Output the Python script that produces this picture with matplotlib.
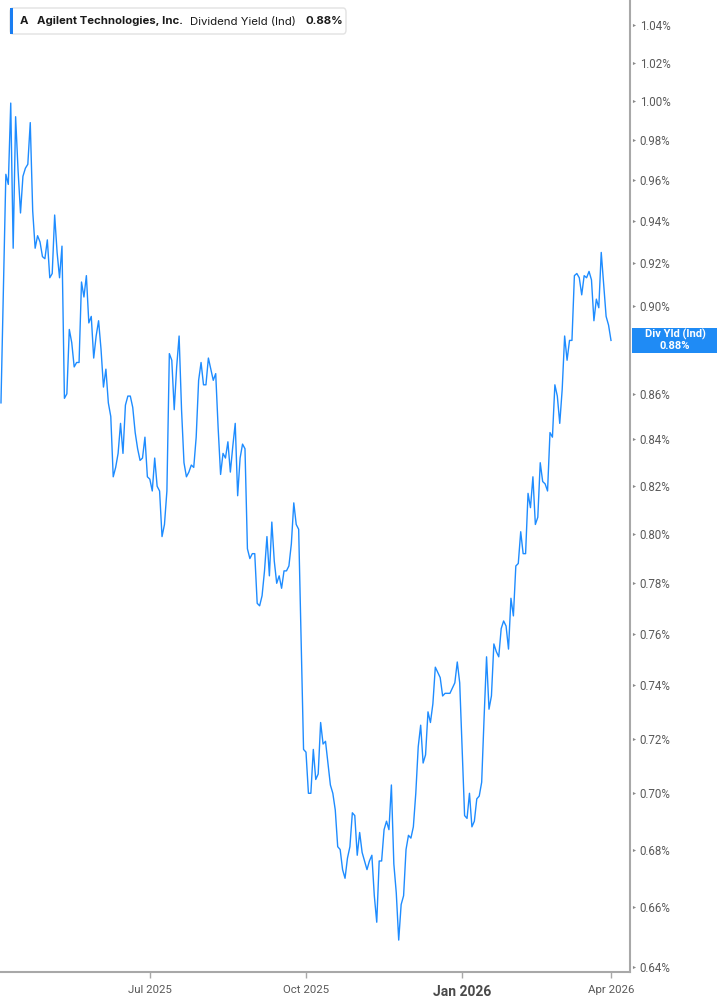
import numpy as np
import pandas as pd
import matplotlib
matplotlib.use('Agg')
import matplotlib.pyplot as plt
import matplotlib.transforms as mtransforms
from matplotlib.patches import FancyBboxPatch, Rectangle
from matplotlib.ticker import FixedLocator, NullLocator, FuncFormatter

# chart info
ticker_sym = 'A'
company = 'Agilent Technologies, Inc.'
metric = 'Dividend Yield (Ind)'
badge_label = 'Div Yld (Ind)'
start_date = '2025-04-02'
market_holidays = ['2025-04-18', '2025-05-26', '2025-06-19', '2025-07-04', '2025-09-01',
                   '2025-11-27', '2025-12-25', '2026-01-01', '2026-01-19', '2026-02-16']

# daily dividend yield (%)
div_yield = [
    0.856, 0.907, 0.963, 0.958, 0.999, 0.927, 0.992, 0.965, 0.944, 0.962, 0.966, 0.968,
    0.989, 0.945, 0.927, 0.933, 0.930, 0.923, 0.922, 0.931, 0.913, 0.915, 0.943, 0.925,
    0.913, 0.928, 0.858, 0.860, 0.889, 0.883, 0.872, 0.874, 0.874, 0.911, 0.904, 0.914,
    0.892, 0.895, 0.876, 0.886, 0.893, 0.880, 0.863, 0.871, 0.856, 0.850, 0.824, 0.828,
    0.834, 0.847, 0.834, 0.855, 0.859, 0.859, 0.854, 0.843, 0.836, 0.831, 0.832, 0.841,
    0.824, 0.823, 0.818, 0.832, 0.820, 0.818, 0.799, 0.804, 0.818, 0.878, 0.875, 0.853,
    0.872, 0.886, 0.853, 0.830, 0.824, 0.826, 0.829, 0.828, 0.841, 0.866, 0.874, 0.864,
    0.864, 0.876, 0.871, 0.866, 0.869, 0.845, 0.825, 0.834, 0.832, 0.839, 0.826, 0.837,
    0.847, 0.816, 0.832, 0.838, 0.836, 0.794, 0.790, 0.792, 0.792, 0.772, 0.771, 0.775,
    0.785, 0.799, 0.783, 0.805, 0.789, 0.780, 0.783, 0.778, 0.785, 0.785, 0.787, 0.796,
    0.813, 0.804, 0.802, 0.758, 0.716, 0.715, 0.700, 0.700, 0.716, 0.705, 0.707, 0.726,
    0.718, 0.719, 0.711, 0.703, 0.700, 0.694, 0.681, 0.680, 0.673, 0.670, 0.677, 0.681,
    0.693, 0.692, 0.678, 0.686, 0.679, 0.676, 0.673, 0.676, 0.678, 0.664, 0.655, 0.676,
    0.676, 0.687, 0.690, 0.687, 0.703, 0.675, 0.665, 0.649, 0.661, 0.664, 0.680, 0.685,
    0.684, 0.688, 0.700, 0.717, 0.725, 0.711, 0.714, 0.730, 0.726, 0.733, 0.747, 0.745,
    0.743, 0.736, 0.737, 0.737, 0.737, 0.739, 0.741, 0.749, 0.741, 0.716, 0.692, 0.691,
    0.700, 0.688, 0.690, 0.698, 0.699, 0.704, 0.728, 0.751, 0.731, 0.736, 0.756, 0.753,
    0.751, 0.762, 0.765, 0.763, 0.754, 0.774, 0.767, 0.787, 0.788, 0.801, 0.792, 0.792,
    0.817, 0.811, 0.824, 0.804, 0.807, 0.830, 0.822, 0.821, 0.818, 0.843, 0.841, 0.864,
    0.859, 0.847, 0.862, 0.886, 0.875, 0.884, 0.884, 0.914, 0.915, 0.913, 0.905, 0.914,
    0.913, 0.916, 0.912, 0.893, 0.903, 0.899, 0.925, 0.910, 0.895, 0.891, 0.884,
]

y_ticks = [0.64, 0.66, 0.68, 0.70, 0.72, 0.74, 0.76, 0.78, 0.80, 0.82, 0.84,
           0.86, 0.88, 0.90, 0.92, 0.94, 0.96, 0.98, 1.00, 1.02, 1.04]
month_ticks = ['2025-07-01', '2025-10-01', '2026-01-01', '2026-04-01']

dates = pd.bdate_range(start=start_date, periods=len(div_yield), freq='C',
                       holidays=market_holidays)
idx = np.arange(len(dates))
last = div_yield[-1]

LINE = '#1e8cff'
GRAY_TXT = '#595959'
AXIS = '#a8a8a8'

fig = plt.figure(figsize=(7.17, 10.05), dpi=100)
ax = fig.add_axes([0, 0.0328, 0.8787, 0.9672])
ax.plot(idx, div_yield, color=LINE, lw=1.0)

ax.set_yscale('log')
ax.set_ylim(0.6384, 1.0535)
ax.set_xlim(-0.4, 257.8)

# right axis (label under the badge is left blank, the badge hides it)
ax.yaxis.tick_right()
ax.yaxis.set_major_locator(FixedLocator(y_ticks))
ax.yaxis.set_minor_locator(NullLocator())
ax.yaxis.set_major_formatter(
    FuncFormatter(lambda v, p: '' if abs(v - round(last, 2)) < 1e-6 else f'{v:.2f}%'))
ax.tick_params(axis='y', length=0, pad=7, labelsize=8.3, labelcolor=GRAY_TXT)
for lab in ax.get_yticklabels():
    lab.set_family('Roboto')
tri = mtransforms.blended_transform_factory(ax.transAxes, ax.transData)
ax.scatter([1.006] * len(y_ticks), y_ticks, marker='>', s=5, color='#8a8a8a',
           transform=tri, clip_on=False, zorder=5, linewidths=0)

# bottom axis: first trading day of each labelled month
pos = [int(np.searchsorted(dates, pd.Timestamp(m))) for m in month_ticks]
ax.set_xticks(pos)
ax.set_xticklabels([pd.Timestamp(m).strftime('%b %Y') for m in month_ticks])
ax.xaxis.set_minor_locator(NullLocator())
ax.tick_params(axis='x', length=4, width=1, color=AXIS, pad=5, labelsize=8.2,
               labelcolor=GRAY_TXT)
for lab in ax.get_xticklabels():
    lab.set_family('Roboto')
    if lab.get_text().startswith('Jan'):
        lab.set_fontweight('bold')
        lab.set_fontsize(10)
        lab.set_color('#4a4a4a')

for s in ['top', 'left']:
    ax.spines[s].set_visible(False)
for s in ['right', 'bottom']:
    ax.spines[s].set_color(AXIS)
    ax.spines[s].set_linewidth(1.5)


def fx(px):
    return px / 717


def fy(py):
    return 1 - py / 1005


# legend box
fig.patches.append(FancyBboxPatch((fx(10), fy(34)), fx(336), 26 / 1005,
                                  boxstyle='round,pad=0,rounding_size=0.004',
                                  fc='white', ec='#e2e2e2', lw=1,
                                  transform=fig.transFigure, figure=fig))
fig.patches.append(Rectangle((fx(10), fy(34)), fx(3), 26 / 1005, fc='#1a7ef2',
                             ec='none', transform=fig.transFigure, figure=fig))
ty = fy(21.5)
fs = 8.2
fig.text(fx(20), ty, ticker_sym, family='Inter', weight='bold', size=fs,
         color='#1a1a1a', va='center')
fig.text(fx(37), ty, company, family='Inter', weight='bold', size=fs,
         color='#1a1a1a', va='center')
fig.text(fx(190), ty, metric, family='Inter', size=fs, color='#1a1a1a', va='center')
fig.text(fx(306), ty, f'{last:.2f}%', family='Inter', weight='bold', size=fs,
         color='#1a1a1a', va='center')

# last value badge
fig.canvas.draw()
y_disp = ax.transData.transform((idx[-1], last))[1]
yc = fig.transFigure.inverted().transform((0, y_disp))[1]
fig.patches.append(Rectangle((fx(632), yc - 12.5 / 1005), fx(85), 25 / 1005,
                             fc='#1f8bf5', ec='none', transform=fig.transFigure,
                             figure=fig))
fig.text(fx(675), yc + 6 / 1005, badge_label, family='Roboto', weight='bold', size=8,
         color='white', ha='center', va='center')
fig.text(fx(675), yc - 6 / 1005, f'{last:.2f}%', family='Roboto',
         weight='bold', size=8, color='white', ha='center', va='center')

fig.savefig('out.png', dpi=100)
